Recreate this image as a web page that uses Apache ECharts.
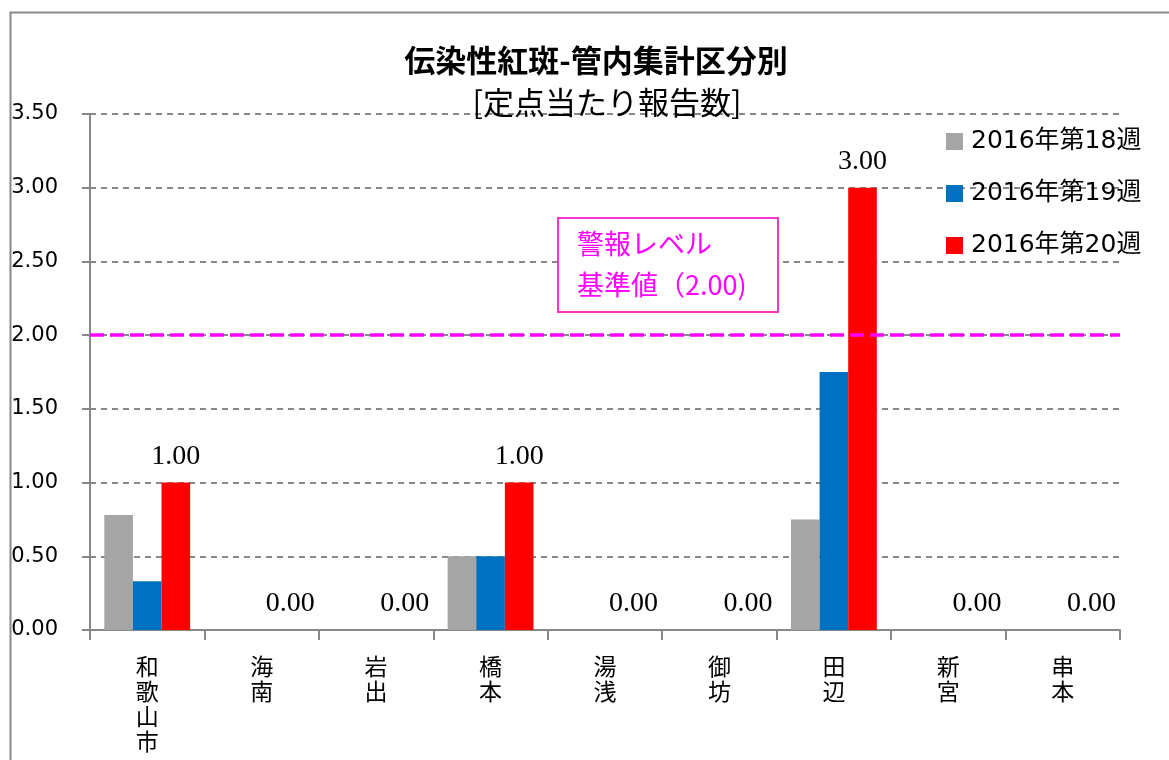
<!DOCTYPE html>
<html><head><meta charset="utf-8">
<script src="https://cdn.jsdelivr.net/npm/echarts@6/dist/echarts.min.js"></script>
<style>html,body{margin:0;padding:0;background:#fff}#c{width:1169px;height:760px}</style>
</head><body><div id="c"></div>
<script>
const categories = ['和歌山市','海南','岩出','橋本','湯浅','御坊','田辺','新宮','串本'];
const seriesNames = ['2016年第18週','2016年第19週','2016年第20週'];
const week18 = [0.78, 0, 0, 0.50, 0, 0, 0.75, 0, 0];
const week19 = [0.33, 0, 0, 0.50, 0, 0, 1.75, 0, 0];
const week20 = [1.00, 0, 0, 1.00, 0, 0, 3.00, 0, 0];
const alertLevel = 2.00;
const colors = ['#A5A5A5', '#0070C0', '#FF0000'];

const chart = echarts.init(document.getElementById('c'));
const sans = '"DejaVu Sans","Noto Sans CJK JP",sans-serif';
const cjk = '"Noto Sans CJK JP",sans-serif';
const serif = '"Liberation Serif","DejaVu Serif",serif';
chart.setOption({
  animation: false,
  backgroundColor: '#fff',
  title: [{
    text: '伝染性紅斑-管内集計区分別',
    left: 591, top: 40, textAlign: 'center',
    textStyle: {fontFamily: cjk, fontSize: 31, fontWeight: 'bold', color: '#000'}
  }, {
    text: '[定点当たり報告数]',
    left: 602, top: 82, textAlign: 'center',
    textStyle: {fontFamily: cjk, fontSize: 31, fontWeight: 'normal', color: '#000'}
  }],
  legend: {
    orient: 'vertical', left: 941, top: 124, itemGap: 27,
    itemWidth: 17, itemHeight: 17, icon: 'rect',
    textStyle: {fontFamily: sans, fontSize: 25, color: '#000', padding: [0, 0, 0, 3]},
    data: seriesNames
  },
  grid: {left: 90, right: 49, top: 114, bottom: 130},
  xAxis: {
    type: 'category', data: categories,
    axisLine: {lineStyle: {color: '#888', width: 2}},
    axisTick: {show: true, length: 10, lineStyle: {color: '#888', width: 2}},
    axisLabel: {
      fontFamily: cjk, fontSize: 23, color: '#000', margin: 24, lineHeight: 25,
      formatter: v => v.split('').join('\n')
    }
  },
  yAxis: {
    type: 'value', min: 0, max: 3.5, interval: 0.5,
    axisLine: {show: true, lineStyle: {color: '#888', width: 2}},
    axisTick: {show: true, length: 8, lineStyle: {color: '#888', width: 2}},
    splitLine: {lineStyle: {color: '#888', type: [6, 5], width: 2}},
    axisLabel: {fontFamily: '"DejaVu Sans",sans-serif', fontSize: 21, color: '#000', margin: 32,
      formatter: v => v.toFixed(2)}
  },
  series: [{
    name: seriesNames[0], type: 'bar', data: week18, barGap: '0%', barCategoryGap: '25%',
    itemStyle: {color: colors[0]}
  }, {
    name: seriesNames[1], type: 'bar', data: week19,
    itemStyle: {color: colors[1]}
  }, {
    name: seriesNames[2], type: 'bar', data: week20,
    itemStyle: {color: colors[2]},
    label: {show: true, position: 'top', distance: 12, fontFamily: serif, fontSize: 28, color: '#000',
      formatter: p => p.value.toFixed(2)},
    markLine: {
      silent: true, symbol: 'none', label: {show: false},
      lineStyle: {color: '#FF00FF', type: [14, 6], width: 3.5},
      data: [{yAxis: alertLevel}]
    }
  }],
  graphic: [{
    type: 'rect', left: 8, top: 10,
    shape: {width: 1200, height: 800},
    style: {fill: 'none', stroke: '#888', lineWidth: 2}, z: -1
  }, {
    type: 'rect', left: 557, top: 217,
    shape: {width: 220, height: 94},
    style: {fill: '#fff', stroke: '#FF33CC', lineWidth: 2}, z: 10
  }, {
    type: 'text', left: 577, top: 230, z: 11,
    style: {text: '警報レベル', fill: '#FF00FF', font: '27px "Noto Sans CJK JP", serif'}
  }, {
    type: 'text', left: 577, top: 271, z: 11,
    style: {text: '基準値（2.00)', fill: '#FF00FF', font: '27px "Noto Sans CJK JP", serif'}
  }]
});
</script></body></html>
